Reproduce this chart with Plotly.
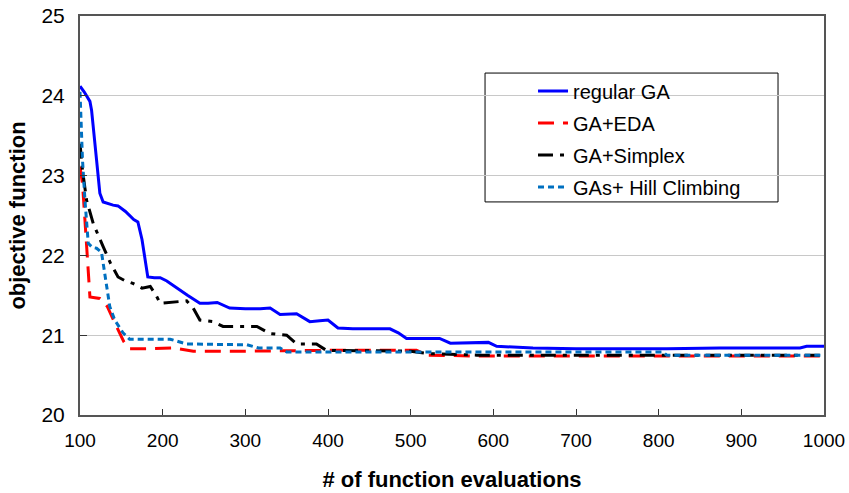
import plotly.graph_objects as go

# ---- data ----
ga_x = [100, 105, 112, 114, 120, 124, 128, 140, 146, 155, 165, 170, 175, 182, 190, 197,
        205, 213, 221, 230, 245, 255, 266, 275, 281, 300, 318, 330, 342, 362, 370, 378,
        390, 400, 412, 430, 475, 485, 495, 535, 548, 594, 604, 648, 700, 810, 874, 971,
        979, 1000]
ga_y = [24.12, 24.05, 23.93, 23.82, 23.20, 22.78, 22.67, 22.63, 22.62, 22.55, 22.45, 22.42,
        22.20, 21.73, 21.72, 21.72, 21.68, 21.62, 21.57, 21.50, 21.40, 21.40, 21.41, 21.37,
        21.34, 21.33, 21.33, 21.34, 21.26, 21.27, 21.22, 21.17, 21.18, 21.19, 21.09, 21.08,
        21.08, 21.03, 20.96, 20.96, 20.90, 20.91, 20.86, 20.84, 20.83, 20.83, 20.84, 20.84,
        20.86, 20.86]

eda_x = [100, 103, 106, 110, 112, 118, 124, 128, 133, 140, 146, 153, 160, 175, 213, 237,
         300, 400, 507, 520, 576, 1000]
eda_y = [23.11, 22.90, 22.44, 21.69, 21.48, 21.47, 21.46, 21.42, 21.36, 21.20, 21.06, 20.92,
         20.83, 20.83, 20.84, 20.80, 20.80, 20.81, 20.81, 20.75, 20.74, 20.74]

simplex_x = [100, 103, 108, 116, 128, 137, 146, 155, 164, 175, 185, 192, 197, 210, 229, 237,
             245, 261, 273, 314, 330, 350, 362, 386, 398, 500, 520, 580, 1000]
simplex_y = [23.40, 23.07, 22.69, 22.40, 22.11, 21.90, 21.73, 21.68, 21.65, 21.59, 21.61, 21.50,
             21.40, 21.41, 21.43, 21.34, 21.19, 21.17, 21.11, 21.11, 21.02, 21.00, 20.89, 20.89,
             20.81, 20.80, 20.77, 20.75, 20.75]

hill_x = [100, 101, 103, 106, 110, 115, 120, 126, 128, 132, 136, 142, 152, 160, 209, 229,
          302, 316, 342, 350, 805, 810, 1000]
hill_y = [24.05, 23.80, 23.20, 22.69, 22.15, 22.10, 22.09, 22.04, 21.90, 21.61, 21.36, 21.19,
          21.03, 20.95, 20.95, 20.89, 20.88, 20.84, 20.84, 20.79, 20.79, 20.75, 20.75]

series_names = ["regular GA", "GA+EDA", "GA+Simplex", "GAs+ Hill Climbing"]
x_ticks = [100, 200, 300, 400, 500, 600, 700, 800, 900, 1000]
y_ticks = [20, 21, 22, 23, 24, 25]
x_range = [100, 1000]
y_range = [20, 25]

FONT = "Liberation Sans, Arial, sans-serif"
AXIS_COLOR = "#555555"

fig = go.Figure()
fig.add_trace(go.Scatter(x=ga_x, y=ga_y, mode="lines", name=series_names[0], legendgroup="a",
                         line=dict(color="#0000FF", width=3)))
fig.add_trace(go.Scatter(x=eda_x, y=eda_y, mode="lines", name=series_names[1], legendgroup="b",
                         line=dict(color="#FF0000", width=3, dash="16px,9px")))
fig.add_trace(go.Scatter(x=simplex_x, y=simplex_y, mode="lines", name=series_names[2], legendgroup="c",
                         line=dict(color="#000000", width=3, dash="15px,7px,4px,7px")))
fig.add_trace(go.Scatter(x=hill_x, y=hill_y, mode="lines", name=series_names[3], legendgroup="d",
                         line=dict(color="#0070C0", width=3, dash="6px,4px")))

# legend box
fig.add_shape(type="rect", xref="paper", yref="paper", x0=0.5444, x1=0.9382, y0=0.534, y1=0.857,
              line=dict(color="#000000", width=1), fillcolor="white", layer="below")

fig.update_layout(
    width=849, height=493,
    margin=dict(l=80, r=25, t=16, b=78, autoexpand=False),
    paper_bgcolor="white", plot_bgcolor="white",
    font=dict(family=FONT, color="#000000"),
    showlegend=True,
    legend=dict(x=0.6089, y=0.861, xanchor="left", yanchor="top",
                bgcolor="rgba(0,0,0,0)", borderwidth=0,
                font=dict(size=20, family=FONT), traceorder="grouped", tracegroupgap=3),
    xaxis=dict(range=x_range, tickvals=x_ticks, ticktext=[str(v) for v in x_ticks],
               automargin=False, ticklabeloverflow="allow",
               showgrid=False, zeroline=False, showline=True, mirror=True,
               linecolor=AXIS_COLOR, linewidth=2,
               ticks="inside", ticklen=6, tickcolor="#333333", tickwidth=1,
               tickfont=dict(size=19, family=FONT), ticklabelstandoff=7,
               title=dict(text="<b># of function evaluations</b>", font=dict(size=22, family=FONT),
                          standoff=22)),
    yaxis=dict(range=y_range, tickvals=y_ticks, ticktext=[str(v) for v in y_ticks],
               automargin=False, ticklabeloverflow="allow",
               showgrid=True, gridcolor="#C8C8C8", gridwidth=1, zeroline=False,
               showline=True, mirror=True, linecolor=AXIS_COLOR, linewidth=2,
               ticks="inside", ticklen=7, tickcolor="#333333", tickwidth=1,
               tickfont=dict(size=21, family=FONT), ticklabelstandoff=9,
               title=dict(text="<b>objective function</b>", font=dict(size=22, family=FONT),
                          standoff=10)),
)

# remove the default 8px page margin so the figure sits at the window's top-left corner
fig.write_html("out.html", config={"displayModeBar": False},
               post_script="document.body.style.margin='0';")
